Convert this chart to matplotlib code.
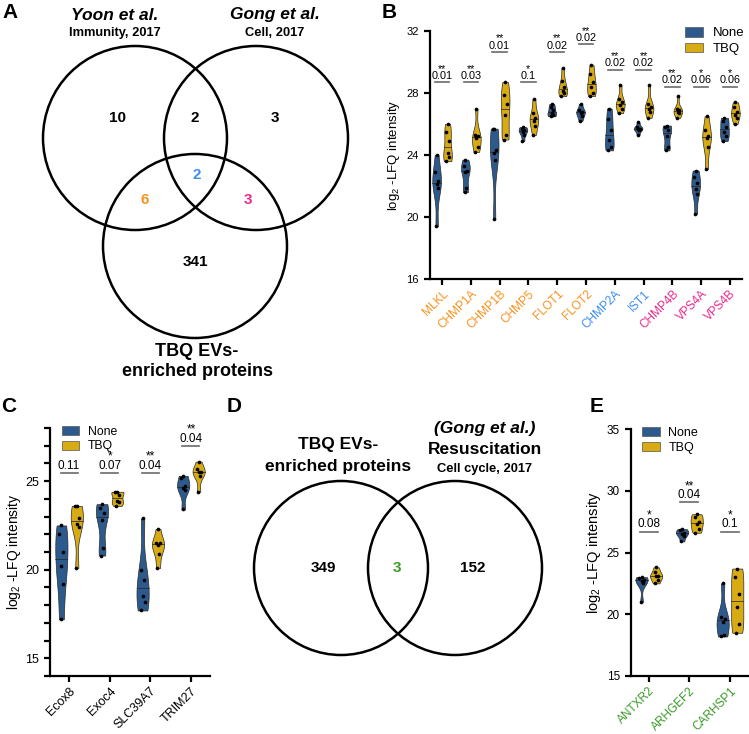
### Package import ###

import numpy as np
import matplotlib
matplotlib.use('Agg')
import matplotlib.pyplot as plt
from matplotlib.patches import Circle, Patch


### Data ###

# Panel A: three-way Venn counts
venn3_counts = ['10', '2', '3', '2', '6', '3', '341']

# Panel B: ESCRT / membrane proteins
b_genes = ['MLKL', 'CHMP1A', 'CHMP1B', 'CHMP5', 'FLOT1', 'FLOT2',
           'CHMP2A', 'IST1', 'CHMP4B', 'VPS4A', 'VPS4B']
b_none = [
    [24.0, 22.9, 22.3, 22.1, 21.9, 19.4],
    [23.7, 23.3, 23.0, 22.9, 21.9, 21.6],
    [25.7, 25.7, 24.3, 24.1, 23.7, 19.9],
    [25.8, 25.7, 25.6, 25.5, 25.3, 24.9],
    [27.3, 27.1, 26.9, 26.7, 26.6, 26.5],
    [27.3, 26.9, 26.8, 26.7, 26.5, 26.2],
    [27.0, 26.3, 25.6, 25.0, 24.5, 24.3],
    [26.1, 25.8, 25.7, 25.7, 25.6, 25.3],
    [25.9, 25.8, 25.6, 25.2, 24.5, 24.3],
    [23.0, 22.6, 22.2, 21.8, 21.5, 20.2],
    [26.4, 26.2, 25.8, 25.5, 25.2, 24.9],
]
b_tbq = [
    [26.0, 25.5, 24.9, 24.1, 23.9, 23.6],
    [27.0, 25.3, 25.2, 25.1, 24.5, 24.2],
    [28.7, 27.9, 27.3, 26.6, 25.3, 25.0],
    [27.6, 26.7, 26.4, 26.2, 25.9, 25.3],
    [29.6, 28.8, 28.4, 28.1, 28.0, 27.8],
    [29.8, 29.2, 28.7, 28.4, 28.0, 27.8],
    [28.5, 27.6, 27.4, 27.2, 27.0, 26.7],
    [28.5, 27.3, 27.1, 27.0, 26.8, 26.4],
    [27.8, 27.0, 26.9, 26.8, 26.7, 26.4],
    [26.5, 25.6, 25.2, 25.1, 24.5, 23.1],
    [27.4, 27.1, 26.8, 26.6, 26.4, 26.0],
]
b_pvals = ['0.01', '0.03', '0.01', '0.1', '0.02', '0.02',
           '0.02', '0.02', '0.02', '0.06', '0.06']
b_stars = ['**', '**', '**', '*', '**', '**', '**', '**', '**', '*', '*']

# Panel C
c_genes = ['Ecox8', 'Exoc4', 'SLC39A7', 'TRIM27']
c_none = [
    [22.5, 22.0, 21.0, 20.2, 19.2, 17.2],
    [23.7, 23.5, 23.2, 22.8, 21.2, 20.8],
    [22.9, 20.0, 19.4, 18.5, 18.2, 17.7],
    [25.3, 25.2, 24.7, 24.6, 24.5, 23.4],
]
c_tbq = [
    [23.6, 23.6, 22.9, 22.6, 22.4, 20.1],
    [24.4, 24.4, 24.2, 23.9, 23.8, 23.6],
    [22.3, 21.5, 21.5, 21.4, 20.9, 20.1],
    [26.1, 25.7, 25.5, 25.5, 25.3, 24.4],
]
c_pvals = ['0.11', '0.07', '0.04', '0.04']
c_stars = ['', '*', '**', '**']

# Panel D: two-way Venn counts
venn2_counts = ['349', '3', '152']

# Panel E
e_genes = ['ANTXR2', 'ARHGEF2', 'CARHSP1']
e_none = [
    [23.0, 22.9, 22.8, 22.7, 22.5, 21.0],
    [26.9, 26.8, 26.6, 26.5, 26.3, 25.9],
    [22.5, 19.8, 19.6, 19.4, 18.3, 18.2],
]
e_tbq = [
    [23.8, 23.4, 23.1, 23.1, 22.8, 22.5],
    [28.1, 27.9, 27.5, 27.3, 26.9, 26.6],
    [23.7, 23.0, 21.6, 20.6, 19.2, 18.5],
]
e_pvals = ['0.08', '0.04', '0.1']
e_stars = ['*', '**', '*']


### Styles ###

plt.rcParams['font.family'] = ['Liberation Sans', 'DejaVu Sans']
plt.rcParams['mathtext.default'] = 'regular'

none_col = '#2d5a8c'
tbq_col = '#d8aa14'
orange = '#f7921e'
blue = '#3b8ef0'
pink = '#ec288c'
green = '#3a9a28'

b_label_cols = [orange] * 6 + [blue] * 2 + [pink] * 3
b_bracket = [28.7, 28.7, 30.65, 28.7, 30.65, 31.15, 29.5, 29.5, 28.4, 28.4, 28.4]
c_bracket = [25.45, 25.45, 25.45, 26.98]
e_bracket = [26.7, 29.05, 26.7]

W, H = 749, 734


### Defining functions ###

def px_axes(fig, left, top, right, bottom):
    # Axes given in pixel edges of the figure
    return fig.add_axes([left / W, 1 - bottom / H, (right - left) / W, (bottom - top) / H])


def draw_violin(ax, vals, pos, width, color):
    vals = np.array(vals)
    grid = np.linspace(vals.min(), vals.max(), 120)
    bw = vals.std(ddof=1) * len(vals) ** (-1 / 5) * 0.8
    dens = np.exp(-0.5 * ((grid[:, None] - vals[None, :]) / bw) ** 2).sum(axis=1)
    dens = dens / dens.max() * width / 2
    ax.fill_betweenx(grid, pos - dens, pos + dens, facecolor=color,
                     edgecolor='#2a2a2a', lw=0.5, zorder=2)
    # median line
    med = np.median(vals)
    half = np.interp(med, grid, dens)
    ax.plot([pos - half, pos + half], [med, med], color='#222222', lw=0.5, zorder=3)
    # points, spread a little inside the violin
    spread = np.array([0, -1, 1, 0, 1, -1]) * 0.35
    xs = pos + spread[:len(vals)] * np.interp(vals, grid, dens)
    ax.scatter(xs, vals, s=7, color='black', zorder=4, linewidths=0)


def style_axes(ax, fs):
    for side in ['top', 'right']:
        ax.spines[side].set_visible(False)
    for side in ['left', 'bottom']:
        ax.spines[side].set_linewidth(1.6)
    ax.tick_params(width=1.6, length=4.5, labelsize=fs, direction='out')
    ax.tick_params(which='minor', width=1.6, length=4.5)
    ax.tick_params(axis='x', pad=2)


def violin_panel(ax, genes, none, tbq, off, width):
    for i in range(len(genes)):
        draw_violin(ax, none[i], i - off, width, none_col)
        draw_violin(ax, tbq[i], i + off, width, tbq_col)
    ax.set_xticks(range(len(genes)))


def brackets(ax, ys, pvals, stars, half, fs, spacing):
    for i, (y, p, s) in enumerate(zip(ys, pvals, stars)):
        ax.plot([i - half, i + half], [y, y], color='#6b6b6b', lw=1.2, zorder=3)
        # stars sit on top of the p-value in one text block
        label = s + '\n' + p if s else p
        ax.annotate(label, (i, y), xytext=(0, 1.0), textcoords='offset points',
                    ha='center', va='bottom', fontsize=fs, linespacing=spacing)


def legend(ax, x, y, fs, spacing=0.25):
    handles = [Patch(facecolor=none_col, edgecolor='#555555', lw=0.5, label='None'),
               Patch(facecolor=tbq_col, edgecolor='#555555', lw=0.5, label='TBQ')]
    ax.legend(handles=handles, loc='upper left', bbox_to_anchor=(x / W, 1 - y / H),
              bbox_transform=ax.figure.transFigure, frameon=False, fontsize=fs,
              borderpad=0, borderaxespad=0, handlelength=1.4, handleheight=0.75,
              handletextpad=0.7, labelspacing=spacing)


### Figure ###

fig = plt.figure(figsize=(W / 100, H / 100), dpi=100)

# Background axes in pixel coordinates for Venn diagrams and panel letters
bg = fig.add_axes([0, 0, 1, 1])
bg.set_xlim(0, W)
bg.set_ylim(H, 0)
bg.axis('off')

for letter, x, y in [('A', 10, 12), ('B', 389, 12), ('C', 9, 407), ('D', 234, 407), ('E', 597, 407)]:
    bg.text(x, y, letter, fontsize=15, fontweight='bold', ha='center', va='center')

# Panel A
for cx, cy in [(135, 138), (256, 138), (195, 246)]:
    bg.add_patch(Circle((cx, cy), 92, fill=False, lw=1.8, color='black'))

bg.text(115, 15, 'Yoon et al.', fontsize=12.5, fontweight='bold', style='italic', ha='center', va='center')
bg.text(115, 33, 'Immunity, 2017', fontsize=9.3, fontweight='bold', ha='center', va='center')
bg.text(275, 15, 'Gong et al.', fontsize=12.5, fontweight='bold', style='italic', ha='center', va='center')
bg.text(275, 33, 'Cell, 2017', fontsize=9.3, fontweight='bold', ha='center', va='center')
bg.text(197, 352, 'TBQ EVs-', fontsize=13, fontweight='bold', ha='center', va='center')
bg.text(197, 371, 'enriched proteins', fontsize=13, fontweight='bold', ha='center', va='center')

venn3_pos = [(118, 118), (195, 118), (275, 118), (197, 175), (145, 200), (248, 200), (195, 262)]
venn3_cols = ['black', 'black', 'black', blue, orange, pink, 'black']
for txt, (x, y), col in zip(venn3_counts, venn3_pos, venn3_cols):
    bg.text(x, y, txt, fontsize=11, fontweight='bold', color=col, ha='center', va='center')

# Panel D
for cx, cy in [(341, 568), (455, 568)]:
    bg.add_patch(Circle((cx, cy), 87, fill=False, lw=1.8, color='black'))

bg.text(338, 445, 'TBQ EVs-', fontsize=12.5, fontweight='bold', ha='center', va='center')
bg.text(338, 466, 'enriched proteins', fontsize=12.5, fontweight='bold', ha='center', va='center')
bg.text(485, 429, '(Gong et al.)', fontsize=12.5, fontweight='bold', style='italic', ha='center', va='center')
bg.text(485, 449, 'Resuscitation', fontsize=12.5, fontweight='bold', ha='center', va='center')
bg.text(485, 469, 'Cell cycle, 2017', fontsize=9.3, fontweight='bold', ha='center', va='center')

for txt, x, col in zip(venn2_counts, [323, 397, 473], ['black', green, 'black']):
    bg.text(x, 568, txt, fontsize=11, fontweight='bold', color=col, ha='center', va='center')

# Panel B
ax_b = px_axes(fig, 430, 31, 742, 279)
violin_panel(ax_b, b_genes, b_none, b_tbq, 0.19, 0.3)
style_axes(ax_b, 8)
ax_b.set_xlim(-0.42, 10.42)
ax_b.set_ylim(16, 32)
ax_b.set_yticks([16, 20, 24, 28, 32])
ax_b.set_xticklabels(b_genes, rotation=45, ha='right', rotation_mode='anchor', fontsize=8.5)
for lab, col in zip(ax_b.get_xticklabels(), b_label_cols):
    lab.set_color(col)
ax_b.set_ylabel('log$_2$ -LFQ intensity', fontsize=9.5)
ax_b.yaxis.set_label_coords(-28 / 312, 0.5)
brackets(ax_b, b_bracket, b_pvals, b_stars, 0.25, 7.8, 0.62)
legend(ax_b, 685, 27, 9.5)

# Panel C
ax_c = px_axes(fig, 50, 428, 210, 676)
violin_panel(ax_c, c_genes, c_none, c_tbq, 0.19, 0.3)
style_axes(ax_c, 9)
ax_c.set_xlim(-0.47, 3.47)
ax_c.set_ylim(14, 28)
ax_c.set_yticks([15, 20, 25])
ax_c.set_yticks(range(14, 29), minor=True)
ax_c.set_xticklabels(c_genes, rotation=45, ha='right', rotation_mode='anchor', fontsize=9)
ax_c.set_ylabel('log$_2$ -LFQ intensity', fontsize=10)
ax_c.yaxis.set_label_coords(-27 / 160, 0.5)
brackets(ax_c, c_bracket, c_pvals, c_stars, 0.21, 8.5, 0.65)
legend(ax_c, 62, 426, 8.8, 0.2)

# Panel E
ax_e = px_axes(fig, 631, 429, 749, 676)
violin_panel(ax_e, e_genes, e_none, e_tbq, 0.18, 0.3)
style_axes(ax_e, 8.5)
ax_e.set_xlim(-0.44, 2.47)
ax_e.set_ylim(15, 35)
ax_e.set_yticks([15, 20, 25, 30, 35])
ax_e.set_xticklabels(e_genes, rotation=45, ha='right', rotation_mode='anchor', fontsize=8.5)
for lab in ax_e.get_xticklabels():
    lab.set_color(green)
ax_e.set_ylabel('log$_2$ -LFQ intensity', fontsize=10.5)
ax_e.yaxis.set_label_coords(-28 / 118, 0.5)
brackets(ax_e, e_bracket, e_pvals, e_stars, 0.22, 8.5, 0.65)
legend(ax_e, 642, 427, 9)

fig.savefig('out.png', dpi=100)
